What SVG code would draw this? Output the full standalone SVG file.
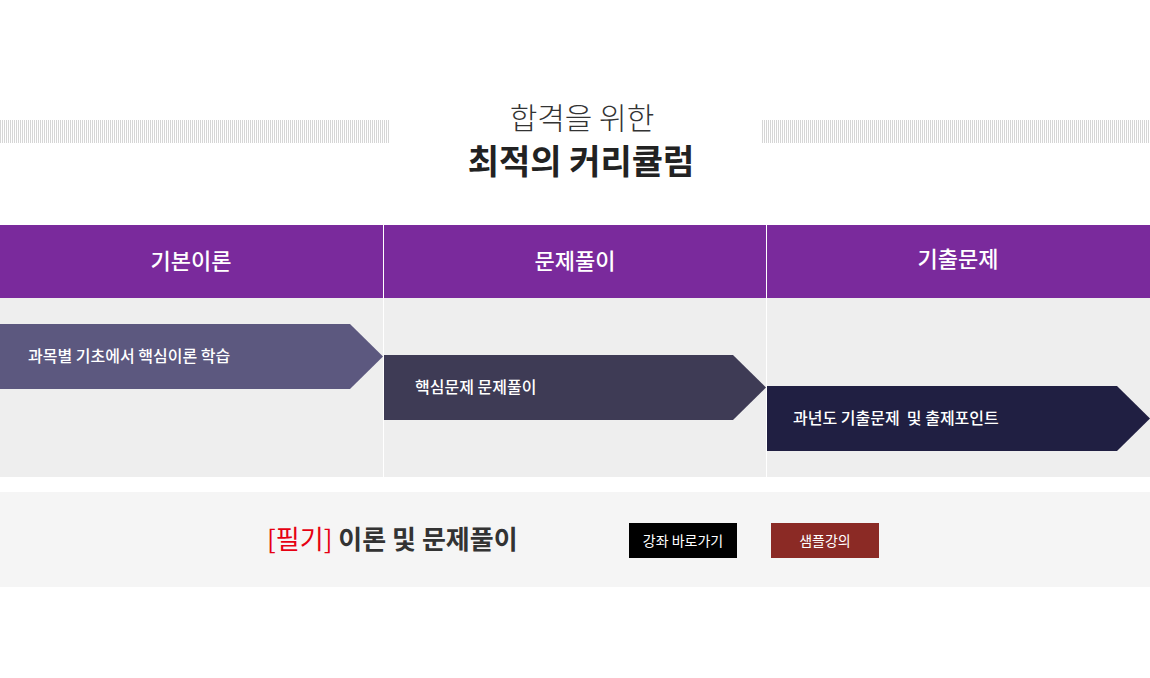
<svg xmlns="http://www.w3.org/2000/svg" width="1150" height="678" viewBox="0 0 1150 678">
<defs>
<pattern id="st" width="2" height="4" patternUnits="userSpaceOnUse"><rect width="1" height="4" fill="#d6d6d6"/></pattern>
<style>
text{font-family:"Noto Sans CJK KR","Noto Sans",sans-serif}
.h{fill:#fff;font-size:22px;font-weight:500;text-anchor:middle}
.a{fill:#fff;font-size:16px;font-weight:500}
.b{fill:#fff;font-size:14px;text-anchor:middle}
</style>
</defs>
<rect width="1150" height="678" fill="#fff"/>
<rect x="0" y="120" width="389" height="23" fill="url(#st)"/>
<rect x="761" y="120" width="389" height="23" fill="url(#st)"/>
<text x="582" y="129" font-size="30" font-weight="300" fill="#333" text-anchor="middle">합격을 위한</text>
<text x="581" y="174" font-size="34" font-weight="700" fill="#222" text-anchor="middle">최적의 커리큘럼</text>
<rect x="0" y="225" width="1150" height="73" fill="#7a2a9c"/>
<rect x="0" y="298" width="1150" height="179" fill="#eeeeee"/>
<rect x="383" y="225" width="1" height="252" fill="#fff"/>
<rect x="766" y="225" width="1" height="252" fill="#fff"/>
<g id="h1"><text class="h" x="191" y="269">기본이론</text></g>
<g id="h2"><text class="h" x="575" y="269">문제풀이</text></g>
<g id="h3"><text class="h" x="958" y="267">기출문제</text></g>
<g id="connectors">
<g id="s1"><polygon points="0,324 350,324 383,356.5 350,389 0,389" fill="#5c587f"/><text class="a" x="28" y="362">과목별 기초에서 핵심이론 학습</text></g>
<g id="s2"><polygon points="384,355 733,355 766,387.5 733,420 384,420" fill="#3e3b55"/><text class="a" x="415" y="393">핵심문제 문제풀이</text></g>
<g id="s3"><polygon points="767,386 1117,386 1150,418.5 1117,451 767,451" fill="#201f42"/><text class="a" x="793" y="424" xml:space="preserve">과년도 기출문제  및 출제포인트</text></g>
</g>
<rect x="0" y="492" width="1150" height="95" fill="#f5f5f5"/>
<text x="267" y="549" font-size="26" font-weight="700" fill="#333"><tspan fill="#e60012" font-weight="400">[필기]</tspan> 이론 및 문제풀이</text>
<g id="btn1"><rect x="629" y="523" width="108" height="35" fill="#000"/><text class="b" x="683" y="546">강좌 바로가기</text></g>
<g id="btn2"><rect x="771" y="523" width="108" height="35" fill="#8b2a25"/><text class="b" x="825" y="546">샘플강의</text></g>
</svg>
